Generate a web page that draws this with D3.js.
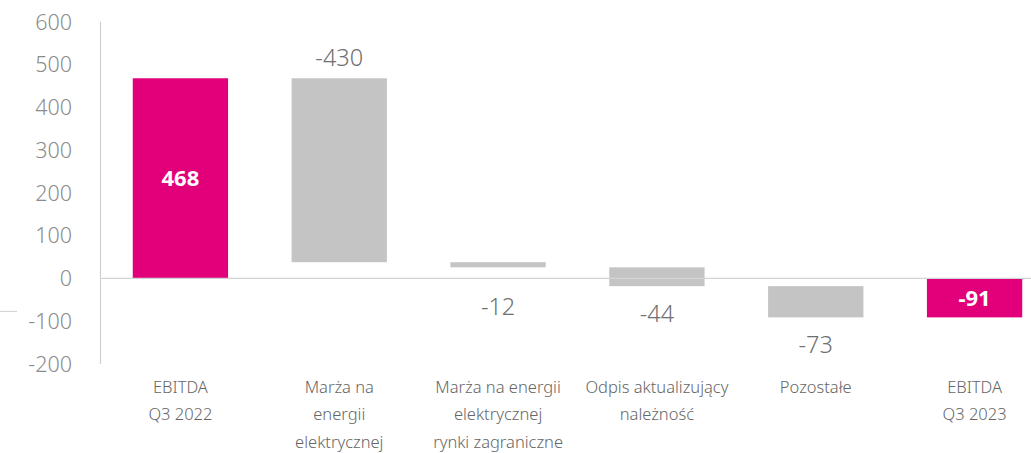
<!DOCTYPE html>
<html>
<head>
<meta charset="utf-8">
<script src="https://cdn.jsdelivr.net/npm/d3@7"></script>
<style>
  html, body { margin: 0; padding: 0; background: #fff; }
  svg { display: block; }
  text { font-family: "Noto Sans", "Open Sans", sans-serif; }
</style>
</head>
<body>
<div id="chart"></div>
<script>
const categories = [
  ["EBITDA", "Q3 2022"],
  ["Marża na", "energii", "elektrycznej"],
  ["Marża na energii", "elektrycznej", "rynki zagraniczne"],
  ["Odpis aktualizujący", "należność"],
  ["Pozostałe"],
  ["EBITDA", "Q3 2023"]
];
const values = [468, -430, -12, -44, -73, -91];
const isTotal = [true, false, false, false, false, true];
const yTicks = [-200, -100, 0, 100, 200, 300, 400, 500, 600];

const W = 1031, H = 453;
const MAGENTA = "#E2007A", GREY = "#C4C4C4";

const svg = d3.select("#chart").append("svg").attr("width", W).attr("height", H);

const y = d3.scaleLinear().domain([-200, 600]).range([364, 21.8]);
const x = d3.scaleBand().domain(d3.range(values.length)).range([101, 1054]).paddingInner(0.4).paddingOuter(0.2);

// compute waterfall segments
let run = 0;
const bars = values.map((v, i) => {
  let start, end;
  if (isTotal[i]) { start = 0; end = v; run = v; }
  else { start = run; end = run + v; run = end; }
  return { i, v, start, end, lo: Math.min(start, end), hi: Math.max(start, end), total: isTotal[i] };
});

// y axis labels
svg.append("g").selectAll("text").data(yTicks).join("text")
  .attr("x", 72).attr("y", d => y(d)).attr("dy", "0.36em")
  .attr("text-anchor", "end").attr("font-size", 21.5).attr("font-weight", 300)
  .attr("fill", "#8c8c8c").text(d => d);

// vertical axis line
svg.append("line").attr("x1", 100.5).attr("x2", 100.5).attr("y1", y(600)).attr("y2", y(-200))
  .attr("stroke", "#cfcfcf").attr("stroke-width", 1.2);

// small stray line at left
svg.append("line").attr("x1", 0).attr("x2", 17).attr("y1", y(-77)).attr("y2", y(-77))
  .attr("stroke", "#cfcfcf").attr("stroke-width", 1);

// bars
svg.append("g").selectAll("rect").data(bars).join("rect")
  .attr("x", d => x(d.i)).attr("width", x.bandwidth())
  .attr("y", d => y(d.hi)).attr("height", d => y(d.lo) - y(d.hi))
  .attr("fill", d => d.total ? MAGENTA : GREY);

// zero line
svg.append("line").attr("x1", 100).attr("x2", W).attr("y1", y(0)).attr("y2", y(0))
  .attr("stroke", "#d4d4d4").attr("stroke-width", 1.3);

// value labels
const lab = svg.append("g");
bars.forEach(d => {
  const cx = x(d.i) + x.bandwidth() / 2;
  if (d.total) {
    lab.append("text").attr("x", cx).attr("y", (y(d.lo) + y(d.hi)) / 2).attr("dy", "0.36em")
      .attr("text-anchor", "middle").attr("font-size", 22).attr("font-weight", 700)
      .attr("fill", "#fff").text(d.v);
  } else if (d.i === 1) {
    lab.append("text").attr("x", cx).attr("y", y(d.hi) - 21).attr("dy", "0.36em")
      .attr("text-anchor", "middle").attr("font-size", 23.5).attr("font-weight", 300)
      .attr("fill", "#707070").text(d.v);
  } else {
    const yy = Math.max(y(0) + 28, y(d.lo) + 27);
    lab.append("text").attr("x", cx).attr("y", yy).attr("dy", "0.36em")
      .attr("text-anchor", "middle").attr("font-size", 23.5).attr("font-weight", 300)
      .attr("fill", "#707070").text(d.v);
  }
});

// category labels
const cat = svg.append("g");
categories.forEach((lines, i) => {
  const t = cat.append("text").attr("x", x(i) + x.bandwidth() / 2).attr("y", 387)
    .attr("text-anchor", "middle").attr("font-size", 16.5)
    .attr("font-weight", 300).attr("fill", "#666");
  lines.forEach((l, k) => {
    t.append("tspan").attr("x", x(i) + x.bandwidth() / 2).attr("dy", k === 0 ? "0.36em" : 27.5).text(l);
  });
});
</script>
</body>
</html>
